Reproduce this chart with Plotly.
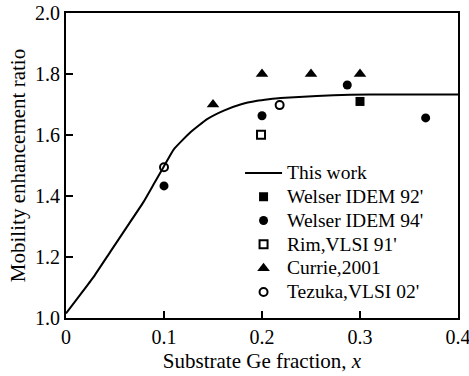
import plotly.graph_objects as go

# Model curve ("This work")
curve_x = [0.0, 0.014, 0.028, 0.045, 0.062, 0.079, 0.089, 0.099, 0.11, 0.127, 0.144, 0.161, 0.178, 0.195, 0.207, 0.219, 0.256, 0.29, 0.33, 0.4]
curve_y = [1.015, 1.074, 1.134, 1.216, 1.298, 1.38, 1.436, 1.492, 1.553, 1.609, 1.652, 1.68, 1.70, 1.712, 1.717, 1.721, 1.728, 1.732, 1.733, 1.733]

# Experimental data
welser92_x = [0.30]
welser92_y = [1.71]
welser94_x = [0.10, 0.20, 0.287, 0.367]
welser94_y = [1.433, 1.663, 1.764, 1.656]
rim_x = [0.199]
rim_y = [1.601]
currie_x = [0.15, 0.20, 0.25, 0.30]
currie_y = [1.70, 1.80, 1.80, 1.80]
tezuka_x = [0.10, 0.218]
tezuka_y = [1.494, 1.698]

x_ticks = [0, 0.1, 0.2, 0.3, 0.4]
x_tick_text = ["0", "0.1", "0.2", "0.3", "0.4"]
y_ticks = [1.0, 1.2, 1.4, 1.6, 1.8, 2.0]
y_tick_text = ["1.0", "1.2", "1.4", "1.6", "1.8", "2.0"]

FONT = "Liberation Serif, DejaVu Serif, serif"


def legend_name(s):
    return '<span style="font-size:19.5px">' + s + '</span>'


fig = go.Figure()
fig.add_trace(go.Scatter(x=curve_x, y=curve_y, mode="lines", name=legend_name("This work"),
                         line=dict(color="black", width=2, shape="spline", smoothing=0.4)))
fig.add_trace(go.Scatter(x=welser92_x, y=welser92_y, mode="markers", name=legend_name("Welser IDEM 92'"),
                         marker=dict(symbol="square", size=9, color="black")))
fig.add_trace(go.Scatter(x=welser94_x, y=welser94_y, mode="markers", name=legend_name("Welser IDEM 94'"),
                         marker=dict(symbol="circle", size=9, color="black")))
fig.add_trace(go.Scatter(x=rim_x, y=rim_y, mode="markers", name=legend_name("Rim,VLSI 91'"),
                         marker=dict(symbol="square-open", size=8, color="black", line=dict(width=2, color="black"))))
fig.add_trace(go.Scatter(x=currie_x, y=currie_y, mode="markers", name=legend_name("Currie,2001"),
                         marker=dict(symbol="triangle-up", size=11, color="black")))
fig.add_trace(go.Scatter(x=tezuka_x, y=tezuka_y, mode="markers", name=legend_name("Tezuka,VLSI 02'"),
                         marker=dict(symbol="circle-open", size=8, color="black", line=dict(width=2, color="black"))))

axis_common = dict(showgrid=False, zeroline=False, showline=True, linecolor="black", linewidth=2,
                   mirror=True, ticks="inside", ticklen=7, tickwidth=1.5, tickcolor="black",
                   automargin=False, ticklabeloverflow="allow",
                   tickfont=dict(family=FONT, size=20, color="black"))

fig.update_xaxes(range=[0, 0.4], tickvals=x_ticks, ticktext=x_tick_text,
                 title=dict(text="Substrate Ge fraction, <i>x</i>", font=dict(family=FONT, size=21, color="black"), standoff=6),
                 **axis_common)
fig.update_yaxes(range=[1.0, 2.0], tickvals=y_ticks, ticktext=y_tick_text,
                 title=dict(text="Mobility enhancement ratio", font=dict(family=FONT, size=21, color="black"), standoff=4),
                 **axis_common)

fig.update_layout(
    width=469, height=376,
    margin=dict(l=66, r=11, t=13, b=58),
    paper_bgcolor="white", plot_bgcolor="white",
    font=dict(family=FONT, color="black"),
    legend=dict(x=0.444, y=0.531, xanchor="left", yanchor="top", bgcolor="rgba(0,0,0,0)",
                itemwidth=37,
                font=dict(family=FONT, size=16, color="black"), tracegroupgap=0),
)

fig.write_html("out.html")
